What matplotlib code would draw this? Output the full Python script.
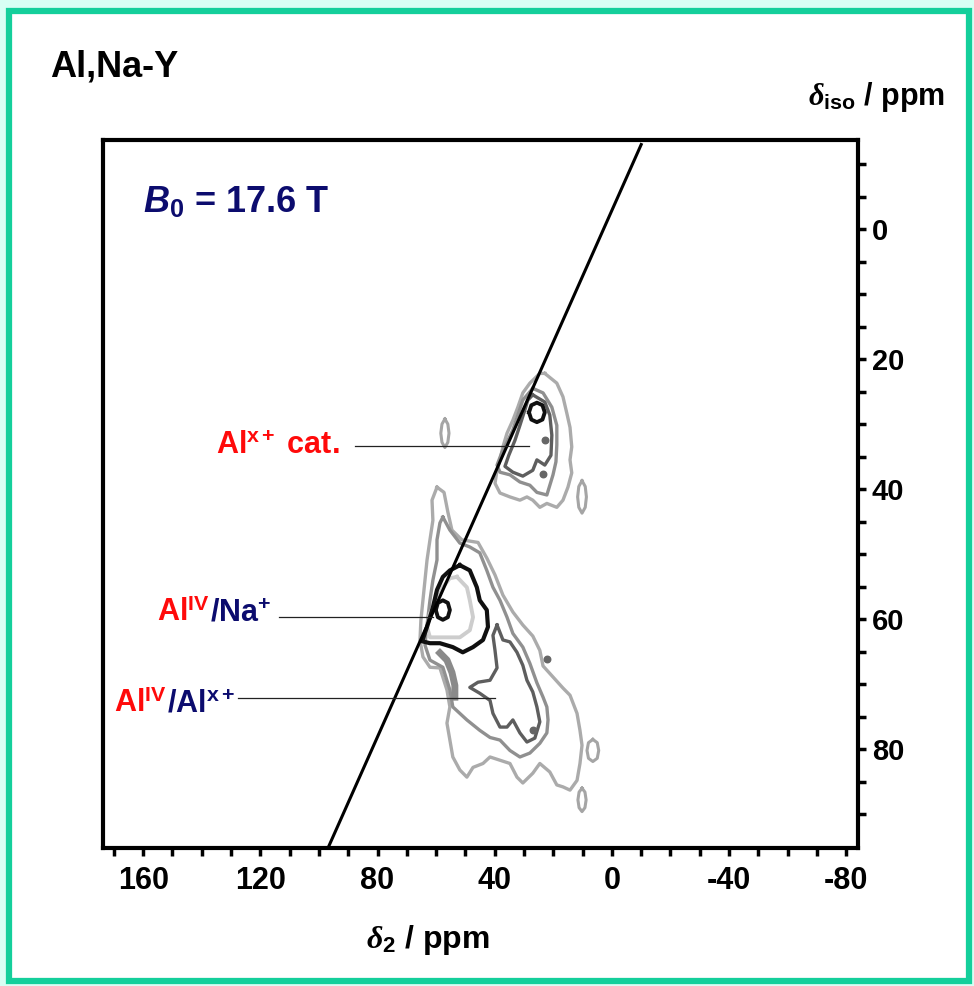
import matplotlib
matplotlib.use("Agg")
import matplotlib.pyplot as plt
from matplotlib.patches import Rectangle
import numpy as np

plt.rcParams['font.family'] = ['Liberation Sans', 'DejaVu Sans']
plt.rcParams['font.weight'] = 'bold'
plt.rcParams['axes.unicode_minus'] = False
plt.rcParams['mathtext.fontset'] = 'custom'
plt.rcParams['mathtext.rm'] = 'Liberation Sans:bold'
plt.rcParams['mathtext.bf'] = 'Liberation Sans:bold'
plt.rcParams['mathtext.it'] = 'Liberation Serif:italic'
plt.rcParams['mathtext.sf'] = 'Liberation Sans:bold:italic'

# contour outlines (delta2, delta_iso) in ppm
# Al(x+) cation signal
cat_outer = [(22.9, 22.2), (18.8, 23.7), (16.7, 25.8), (15.4, 28.3), (14.3, 30.5), (13.7, 33.5),
             (14.3, 35.5), (13.7, 37.5), (15.0, 39.7), (16.7, 41.7), (18.8, 42.8), (22.2, 42.2),
             (24.6, 42.8), (27.0, 41.7), (29.0, 41.2), (31.4, 41.7), (34.8, 41.2), (38.2, 40.6),
             (39.9, 39.1), (39.2, 37.1), (38.2, 35.5), (37.2, 33.5), (35.8, 31.4), (33.8, 29.4),
             (32.1, 27.4), (30.4, 25.2), (28.0, 23.7), (24.6, 22.2)]
cat_mid = [(27.0, 24.5), (23.5, 25.2), (20.5, 27.4), (18.8, 30.2), (18.8, 33.2), (19.1, 35.8),
           (20.1, 37.8), (22.2, 40.9), (25.6, 40.5), (28.0, 39.4), (31.4, 38.9), (34.8, 37.8),
           (38.2, 37.4), (39.2, 36.3), (37.5, 34.3), (35.8, 32.8), (33.8, 30.9), (32.1, 28.6),
           (30.4, 26.3)]
cat_inner = [(27.0, 25.5), (22.9, 26.6), (21.2, 28.6), (20.5, 31.7), (20.8, 34.8), (22.9, 36.3),
             (25.6, 35.5), (27.0, 37.1), (30.4, 38.0), (33.8, 37.4), (36.5, 36.5), (35.2, 34.8),
             (33.1, 32.5), (31.4, 30.2), (29.7, 27.8), (28.7, 26.3)]
cat_core = [(28.3, 28.2), (27.5, 29.3), (25.6, 29.7), (23.7, 29.3), (22.9, 28.2), (23.7, 27.1),
            (25.6, 26.7), (27.5, 27.1)]

# Al(IV)/Na+ and Al(IV)/Al(x+) signals
na_outer = [(59.7, 39.7), (57.3, 40.5), (56.0, 43.5), (54.6, 46.3), (51.2, 47.8), (45.7, 48.2),
            (42.7, 50.6), (39.9, 53.2), (37.2, 56.3), (33.8, 58.9), (30.4, 60.9), (27.0, 62.6),
            (24.6, 64.8), (23.5, 67.2), (20.1, 68.9), (16.7, 70.6), (14.3, 71.7), (11.9, 74.5),
            (10.9, 77.1), (10.2, 79.4), (10.9, 82.2), (11.9, 84.8), (14.3, 86.3), (16.7, 85.8),
            (18.8, 85.5), (21.2, 83.5), (24.6, 82.2), (27.0, 83.7), (30.4, 85.2), (32.4, 84.3),
            (34.8, 82.2), (38.2, 81.7), (41.6, 81.2), (44.0, 82.2), (47.4, 82.8), (49.5, 84.3),
            (51.9, 83.2), (54.3, 81.2), (55.3, 78.6), (56.3, 76.0), (55.3, 73.5), (56.3, 70.9),
            (58.7, 67.5), (62.1, 67.4), (64.5, 65.8), (65.5, 63.2), (65.2, 60.2), (64.5, 57.1),
            (63.8, 54.0), (63.1, 50.9), (62.1, 47.8), (61.1, 44.8), (61.4, 41.7)]
na_mid = [(57.7, 44.3), (55.3, 46.3), (51.9, 48.3), (48.5, 48.9), (45.1, 49.8), (42.7, 52.5),
          (40.6, 55.1), (38.2, 57.1), (35.8, 59.7), (33.8, 62.2), (30.4, 64.3), (28.0, 66.8),
          (25.6, 69.8), (23.5, 72.0), (22.2, 73.5), (21.8, 75.5), (22.2, 77.5), (24.6, 79.1),
          (28.0, 80.6), (31.4, 81.2), (34.8, 80.2), (38.2, 78.6), (41.6, 78.2), (45.1, 77.1),
          (49.5, 75.5), (54.3, 73.5), (55.3, 70.9), (57.7, 67.4), (62.1, 66.3), (63.8, 64.0),
          (63.1, 60.9), (62.1, 57.1), (61.1, 54.0), (59.7, 50.9), (59.7, 47.8), (58.7, 45.2)]
na_inner = [(39.2, 60.9), (37.2, 63.2), (34.8, 63.5), (32.4, 65.1), (30.4, 67.1), (29.0, 69.4),
            (27.0, 71.2), (25.6, 73.5), (24.6, 75.8), (26.3, 78.3), (29.0, 78.9), (31.4, 77.5),
            (33.8, 75.5), (35.8, 76.6), (38.2, 76.6), (40.6, 74.5), (41.6, 72.5), (45.1, 71.4),
            (48.5, 70.5), (45.7, 69.7), (41.6, 69.4), (39.2, 67.5), (39.9, 64.8), (40.6, 62.5)]
na_black = [(51.9, 51.7), (48.5, 52.5), (46.1, 55.1), (45.1, 57.1), (42.7, 58.6), (42.3, 61.2),
            (44.0, 63.2), (47.4, 64.3), (50.9, 65.1), (54.3, 64.3), (58.7, 63.7), (62.1, 63.7),
            (64.8, 63.4), (63.1, 61.2), (61.1, 58.2), (59.7, 55.5), (57.7, 53.5), (55.3, 52.5)]
na_light = [(52.9, 53.5), (49.5, 55.1), (48.5, 57.1), (47.4, 59.7), (48.5, 61.7), (51.9, 62.8),
            (56.3, 62.8), (62.1, 62.8), (63.1, 61.2), (62.1, 59.1), (59.7, 57.1), (57.7, 55.1),
            (55.3, 53.7)]
na_core = [(60.1, 58.6), (59.4, 59.7), (57.7, 60.1), (56.0, 59.7), (55.3, 58.6), (56.0, 57.5),
           (57.7, 57.1), (59.4, 57.5)]
na_band = [(58.7, 65.2), (56.3, 66.3), (54.6, 68.2), (53.6, 70.2), (53.6, 72.0)]

# small isolated islands
islands = [
    [(57.0, 29.2), (56.0, 30.0), (55.6, 31.4), (56.0, 32.8), (57.0, 33.6), (58.0, 32.8), (58.4, 31.4), (58.0, 30.0)],
    [(10.2, 38.7), (9.1, 39.6), (8.7, 41.2), (9.1, 42.8), (10.2, 43.7), (11.3, 42.8), (11.7, 41.2), (11.3, 39.6)],
    [(6.5, 78.5), (5.0, 79.0), (4.5, 80.2), (5.0, 81.4), (6.5, 81.9), (8.0, 81.4), (8.5, 80.2), (8.0, 79.0)],
    [(10.2, 86.0), (9.2, 86.6), (8.8, 87.8), (9.2, 89.0), (10.2, 89.6), (11.2, 89.0), (11.6, 87.8), (11.2, 86.6)],
]
dots_x = [22.9, 23.5, 22.2, 27.0]
dots_y = [32.5, 37.6, 66.2, 77.1]

# diagonal reference line
diag_x = [-10.0, 97.0]
diag_y = [-13.0, 95.3]

# leader lines: (start x, end x, y)
lead_cat = (87.7, 28.3, 33.4)
lead_na = (113.7, 61.1, 59.7)
lead_alx = (127.6, 39.9, 72.2)

xticks_major = [160, 120, 80, 40, 0, -40, -80]
yticks_major = [0, 20, 40, 60, 80]

green = '#14cf9b'
navy = '#0c0c6e'
red = '#ff0a0a'


def ring(ax, pts, color, lw, close=True, z=3):
    arr = np.array(pts)
    if close:
        arr = np.vstack([arr, arr[:1]])
    ax.plot(arr[:, 0], arr[:, 1], color=color, lw=lw, solid_joinstyle='round', zorder=z)


fig = plt.figure(figsize=(9.74, 9.86), dpi=100)
fig.patch.set_facecolor('#d8fff4')
fig.patches.append(Rectangle((9 / 974, 5 / 986), 960 / 974, 970 / 986, transform=fig.transFigure,
                             facecolor='white', edgecolor=green, lw=4.5, zorder=-5))

ax = fig.add_axes([103 / 974, 1 - 848 / 986, 755 / 974, 708 / 986])
ax.set_zorder(2)
ax.set_xlim(173.7, -84.0)
ax.set_ylim(95.2, -13.7)

# contours
ring(ax, cat_outer, '#ababab', 2.4)
ring(ax, cat_mid, '#8f8f8f', 2.4)
ring(ax, cat_inner, '#5e5e5e', 2.4)
ring(ax, cat_core, '#101010', 2.8)
ring(ax, na_outer, '#ababab', 2.4)
ring(ax, na_mid, '#909090', 2.4)
ring(ax, na_inner, '#5e5e5e', 2.4)
ring(ax, na_band, '#8a8a8a', 5.0, close=False)
ring(ax, na_light, '#cdcdcd', 2.8)
ring(ax, na_black, '#101010', 3.0)
ring(ax, na_core, '#101010', 2.8)
for isl in islands:
    ring(ax, isl, '#a5a5a5', 2.2)
ax.scatter(dots_x, dots_y, s=22, color='#666666', zorder=3)

ax.plot(diag_x, diag_y, color='black', lw=2.2, zorder=4)

for x0, x1, y in (lead_cat, lead_na, lead_alx):
    ax.plot([x0, x1], [y, y], color='#222222', lw=0.9, zorder=4)

# labels
fs_lab = 22
ax.text(92.8, 34.6, r'Al$^{\mathrm{x+}}$ cat.', color=red, fontsize=fs_lab, ha='right', va='baseline')
ax.text(137.2, 60.3, r'Al$^{\mathrm{IV}}$', color=red, fontsize=fs_lab, ha='right', va='baseline')
ax.text(137.2, 60.3, r'/Na$^{+}$', color=navy, fontsize=fs_lab, ha='left', va='baseline')
ax.text(151.9, 74.3, r'Al$^{\mathrm{IV}}$', color=red, fontsize=fs_lab, ha='right', va='baseline')
ax.text(151.9, 74.3, r'/Al$^{\mathrm{x+}}$', color=navy, fontsize=fs_lab, ha='left', va='baseline')

ax.text(0.053, 0.897, r'$\mathsf{B}_\mathrm{0}$ = 17.6 T', transform=ax.transAxes, color=navy,
        fontsize=26, ha='left', va='baseline')

# axes styling
for side in ('left', 'right', 'top', 'bottom'):
    ax.spines[side].set_linewidth(3.0)
ax.set_xticks(xticks_major)
ax.set_xticks(np.arange(170, -90, -10), minor=True)
ax.set_yticks(yticks_major)
ax.set_yticks(np.arange(-10, 95, 5), minor=True)
ax.yaxis.tick_right()
ax.tick_params(axis='both', which='both', direction='out', width=2.5, length=6)
ax.tick_params(axis='x', pad=7)
ax.tick_params(axis='y', pad=4)
for lbl in ax.get_xticklabels():
    lbl.set_family(['Liberation Sans Narrow', 'Liberation Sans'])
    lbl.set_fontweight('bold')
    lbl.set_fontsize(22)
for lbl in ax.get_yticklabels():
    lbl.set_fontweight('bold')
    lbl.set_fontsize(21)

fig.text(50 / 974, 1 - 77 / 986, 'Al,Na-Y', fontsize=26, ha='left', va='baseline')
fig.text(945 / 974, 1 - 105 / 986, r'$\delta_\mathrm{iso}$ / ppm', fontsize=22, ha='right', va='baseline')
fig.text(428 / 974, 1 - 948 / 986, r'$\delta_\mathrm{2}$ / ppm', fontsize=23, ha='center', va='baseline')

fig.savefig('out.png', dpi=100, facecolor=fig.get_facecolor())
